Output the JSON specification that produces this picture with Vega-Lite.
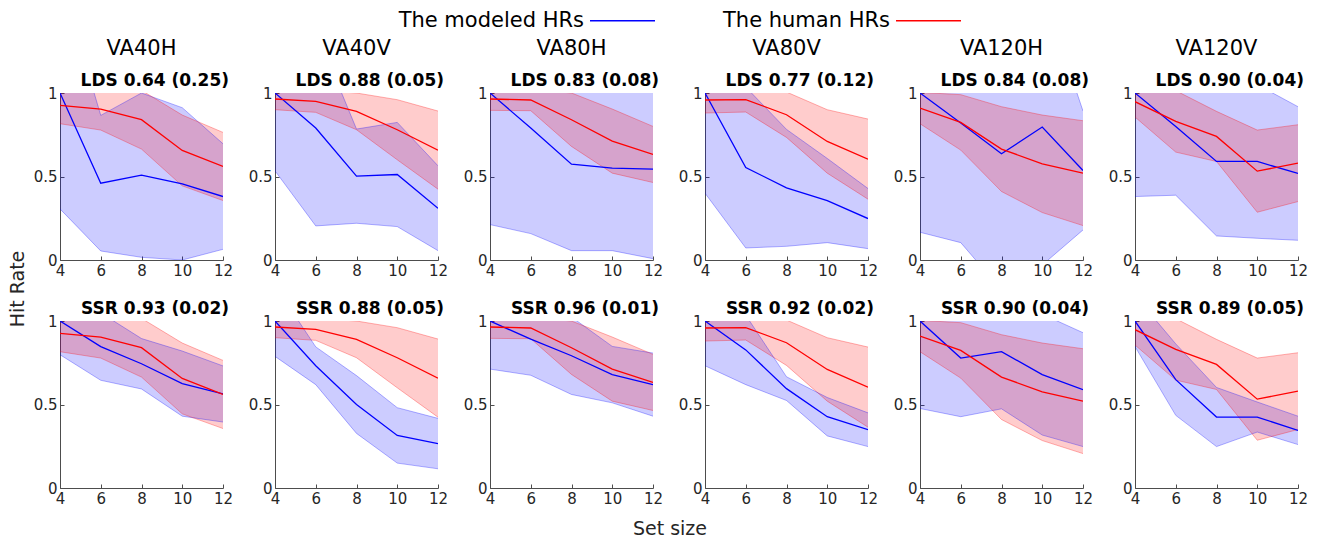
{
  "$schema": "https://vega.github.io/schema/vega-lite/v6.json",
  "padding": {"left": 8, "top": -13, "right": 5, "bottom": 5},
  "background": "white",
  "config": {
    "font": "DejaVu Sans",
    "view": {"stroke": null},
    "axis": {"grid": false, "domainColor": "#4d4d4d", "tickColor": "#4d4d4d", "tickSize": -4, "labelPadding": 7, "labelFontSize": 15, "labelColor": "#262626", "labelFlush": false, "labelOverlap": false, "title": null, "domainWidth": 1, "tickWidth": 1}
  },
  "data": {"values": [
    {"c":"VA40H","m":"LDS","s":"model","label":"LDS 0.64 (0.25)","x":[4,6,8,10,12],"y":[1,0.46,0.508,0.456,0.38],"lo":[0.306,0.054,0.016,0,0.064],"hi":[1.694,0.866,1.0,0.912,0.696]},
    {"c":"VA40V","m":"LDS","s":"model","label":"LDS 0.88 (0.05)","x":[4,6,8,10,12],"y":[1,0.79,0.502,0.512,0.31],"lo":[0.534,0.204,0.22,0.2,0.056],"hi":[1.466,1.376,0.784,0.824,0.564]},
    {"c":"VA80H","m":"LDS","s":"model","label":"LDS 0.83 (0.08)","x":[4,6,8,10,12],"y":[1,0.79,0.574,0.55,0.544],"lo":[0.212,0.158,0.056,0.056,0.008],"hi":[1.788,1.422,1.092,1.044,1.08]},
    {"c":"VA80V","m":"LDS","s":"model","label":"LDS 0.77 (0.12)","x":[4,6,8,10,12],"y":[1,0.554,0.432,0.356,0.248],"lo":[0.4,0.072,0.082,0.104,0.068],"hi":[1.6,1.036,0.782,0.608,0.428]},
    {"c":"VA120H","m":"LDS","s":"model","label":"LDS 0.84 (0.08)","x":[4,6,8,10,12],"y":[1,0.82,0.636,0.796,0.536],"lo":[0.166,0.104,-0.18,-0.03,0.18],"hi":[1.834,1.536,1.452,1.622,0.892]},
    {"c":"VA120V","m":"LDS","s":"model","label":"LDS 0.90 (0.04)","x":[4,6,8,10,12],"y":[1,0.8,0.59,0.59,0.518],"lo":[0.38,0.388,0.144,0.13,0.118],"hi":[1.62,1.212,1.036,1.05,0.918]},
    {"c":"VA40H","m":"SSR","s":"model","label":"SSR 0.93 (0.02)","x":[4,6,8,10,12],"y":[1,0.847,0.744,0.625,0.563],"lo":[0.798,0.645,0.593,0.43,0.395],"hi":[1.202,1.049,0.895,0.82,0.731]},
    {"c":"VA40V","m":"SSR","s":"model","label":"SSR 0.88 (0.05)","x":[4,6,8,10,12],"y":[1,0.732,0.5,0.315,0.266],"lo":[0.788,0.619,0.327,0.149,0.115],"hi":[1.212,0.845,0.673,0.481,0.417]},
    {"c":"VA80H","m":"SSR","s":"model","label":"SSR 0.96 (0.01)","x":[4,6,8,10,12],"y":[1,0.891,0.792,0.679,0.619],"lo":[0.712,0.675,0.56,0.51,0.43],"hi":[1.288,1.107,1.024,0.848,0.808]},
    {"c":"VA80V","m":"SSR","s":"model","label":"SSR 0.92 (0.02)","x":[4,6,8,10,12],"y":[1,0.827,0.595,0.427,0.349],"lo":[0.732,0.619,0.524,0.312,0.248],"hi":[1.268,1.035,0.666,0.542,0.45]},
    {"c":"VA120H","m":"SSR","s":"model","label":"SSR 0.90 (0.04)","x":[4,6,8,10,12],"y":[1,0.778,0.817,0.679,0.589],"lo":[0.476,0.427,0.474,0.317,0.248],"hi":[1.524,1.129,1.16,1.041,0.93]},
    {"c":"VA120V","m":"SSR","s":"model","label":"SSR 0.89 (0.05)","x":[4,6,8,10,12],"y":[1,0.649,0.425,0.425,0.345],"lo":[0.847,0.435,0.248,0.335,0.26],"hi":[1.153,0.863,0.602,0.515,0.43]},
    {"c":"VA40H","m":"LDS","s":"human","x":[4,6,8,10,12],"y":[0.926,0.904,0.84,0.656,0.56],"lo":[0.816,0.778,0.664,0.444,0.356],"hi":[1.036,1.03,1.016,0.868,0.764]},
    {"c":"VA40V","m":"LDS","s":"human","x":[4,6,8,10,12],"y":[0.964,0.95,0.89,0.78,0.658],"lo":[0.9,0.884,0.78,0.6,0.424],"hi":[1.028,1.016,1.0,0.96,0.892]},
    {"c":"VA80H","m":"LDS","s":"human","x":[4,6,8,10,12],"y":[0.964,0.958,0.84,0.712,0.632],"lo":[0.896,0.894,0.68,0.52,0.464],"hi":[1.032,1.022,1.0,0.904,0.8]},
    {"c":"VA80V","m":"LDS","s":"human","x":[4,6,8,10,12],"y":[0.958,0.96,0.87,0.71,0.604],"lo":[0.88,0.886,0.734,0.52,0.364],"hi":[1.036,1.034,1.006,0.9,0.844]},
    {"c":"VA120H","m":"LDS","s":"human","x":[4,6,8,10,12],"y":[0.91,0.824,0.664,0.576,0.52],"lo":[0.816,0.658,0.41,0.284,0.206],"hi":[1.004,0.99,0.918,0.868,0.834]},
    {"c":"VA120V","m":"LDS","s":"human","x":[4,6,8,10,12],"y":[0.948,0.83,0.74,0.532,0.58],"lo":[0.856,0.646,0.59,0.286,0.35],"hi":[1.04,1.014,0.89,0.778,0.81]},
    {"c":"VA40H","m":"SSR","s":"human","x":[4,6,8,10,12],"y":[0.926,0.904,0.84,0.656,0.56],"lo":[0.816,0.778,0.664,0.444,0.356],"hi":[1.036,1.03,1.016,0.868,0.764]},
    {"c":"VA40V","m":"SSR","s":"human","x":[4,6,8,10,12],"y":[0.964,0.95,0.89,0.78,0.658],"lo":[0.9,0.884,0.78,0.6,0.424],"hi":[1.028,1.016,1.0,0.96,0.892]},
    {"c":"VA80H","m":"SSR","s":"human","x":[4,6,8,10,12],"y":[0.964,0.958,0.84,0.712,0.632],"lo":[0.896,0.894,0.68,0.52,0.464],"hi":[1.032,1.022,1.0,0.904,0.8]},
    {"c":"VA80V","m":"SSR","s":"human","x":[4,6,8,10,12],"y":[0.958,0.96,0.87,0.71,0.604],"lo":[0.88,0.886,0.734,0.52,0.364],"hi":[1.036,1.034,1.006,0.9,0.844]},
    {"c":"VA120H","m":"SSR","s":"human","x":[4,6,8,10,12],"y":[0.91,0.824,0.664,0.576,0.52],"lo":[0.816,0.658,0.41,0.284,0.206],"hi":[1.004,0.99,0.918,0.868,0.834]},
    {"c":"VA120V","m":"SSR","s":"human","x":[4,6,8,10,12],"y":[0.948,0.83,0.74,0.532,0.58],"lo":[0.856,0.646,0.59,0.286,0.35],"hi":[1.04,1.014,0.89,0.778,0.81]}
  ]},
  "transform": [{"flatten": ["x", "y", "lo", "hi"]}],
  "facet": {
    "row": {"field": "m", "type": "nominal", "sort": ["LDS", "SSR"], "header": {"labels": false, "title": "Hit Rate", "titleFontSize": 19, "titleFontWeight": "normal", "titleColor": "#262626", "titlePadding": 22}},
    "column": {"field": "c", "type": "nominal", "sort": ["VA40H", "VA40V", "VA80H", "VA80V", "VA120H", "VA120V"], "header": {"title": "Set size", "titleOrient": "bottom", "labelOrient": "top", "labelFontSize": 21, "labelColor": "black", "labelPadding": 34, "titleFontSize": 19, "titleFontWeight": "normal", "titleColor": "#262626", "titlePadding": 22}}
  },
  "spacing": {"row": 61, "column": 52},
  "bounds": "flush",
  "resolve": {"axis": {"x": "independent", "y": "independent"}},
  "spec": {
    "width": 163,
    "height": 167,
    "encoding": {
      "x": {"field": "x", "type": "quantitative", "scale": {"domain": [4, 12], "nice": false, "zero": false}, "axis": {"values": [4, 6, 8, 10, 12], "title": null}}
    },
    "layer": [
      {
        "mark": {"type": "area", "clip": true, "fillOpacity": 0.2},
        "encoding": {
          "y": {"field": "lo", "type": "quantitative", "scale": {"domain": [0, 1], "nice": false, "zero": false}, "axis": {"values": [0, 0.5, 1], "format": "~g", "title": null}},
          "y2": {"field": "hi"},
          "color": {"field": "s", "type": "nominal", "scale": {"domain": ["model", "human"], "range": ["#0000ff", "#ff0000"]},
            "legend": {"title": null, "orient": "none", "legendX": 529, "legendY": -106, "direction": "horizontal", "symbolType": "stroke", "symbolSize": 4225, "symbolStrokeWidth": 1.3, "symbolOpacity": 1, "labelFontSize": 21, "labelColor": "black", "labelAlign": "right", "labelOffset": -72, "columnPadding": 65, "labelLimit": 400,
              "labelExpr": "datum.value == 'model' ? 'The modeled HRs' : 'The human HRs'",
              "encode": {"symbols": {"update": {"stroke": {"scale": "color", "field": "value"}, "strokeOpacity": {"value": 1}}}}}}
        }
      },
      {
        "mark": {"type": "line", "clip": true, "strokeWidth": 1, "strokeOpacity": 0.3},
        "encoding": {"y": {"field": "lo", "type": "quantitative"}, "color": {"field": "s", "type": "nominal"}}
      },
      {
        "mark": {"type": "line", "clip": true, "strokeWidth": 1, "strokeOpacity": 0.3},
        "encoding": {"y": {"field": "hi", "type": "quantitative"}, "color": {"field": "s", "type": "nominal"}}
      },
      {
        "mark": {"type": "line", "clip": true, "strokeWidth": 1.3},
        "encoding": {"y": {"field": "y", "type": "quantitative"}, "color": {"field": "s", "type": "nominal"}}
      },
      {
        "transform": [{"filter": "datum.s == 'model' && datum.x == 12"}],
        "mark": {"type": "text", "align": "right", "baseline": "middle", "dx": 6, "dy": -12, "fontSize": 17, "fontWeight": "bold", "color": "black"},
        "encoding": {"y": {"datum": 1, "type": "quantitative"}, "text": {"field": "label"}}
      }
    ]
  }
}
